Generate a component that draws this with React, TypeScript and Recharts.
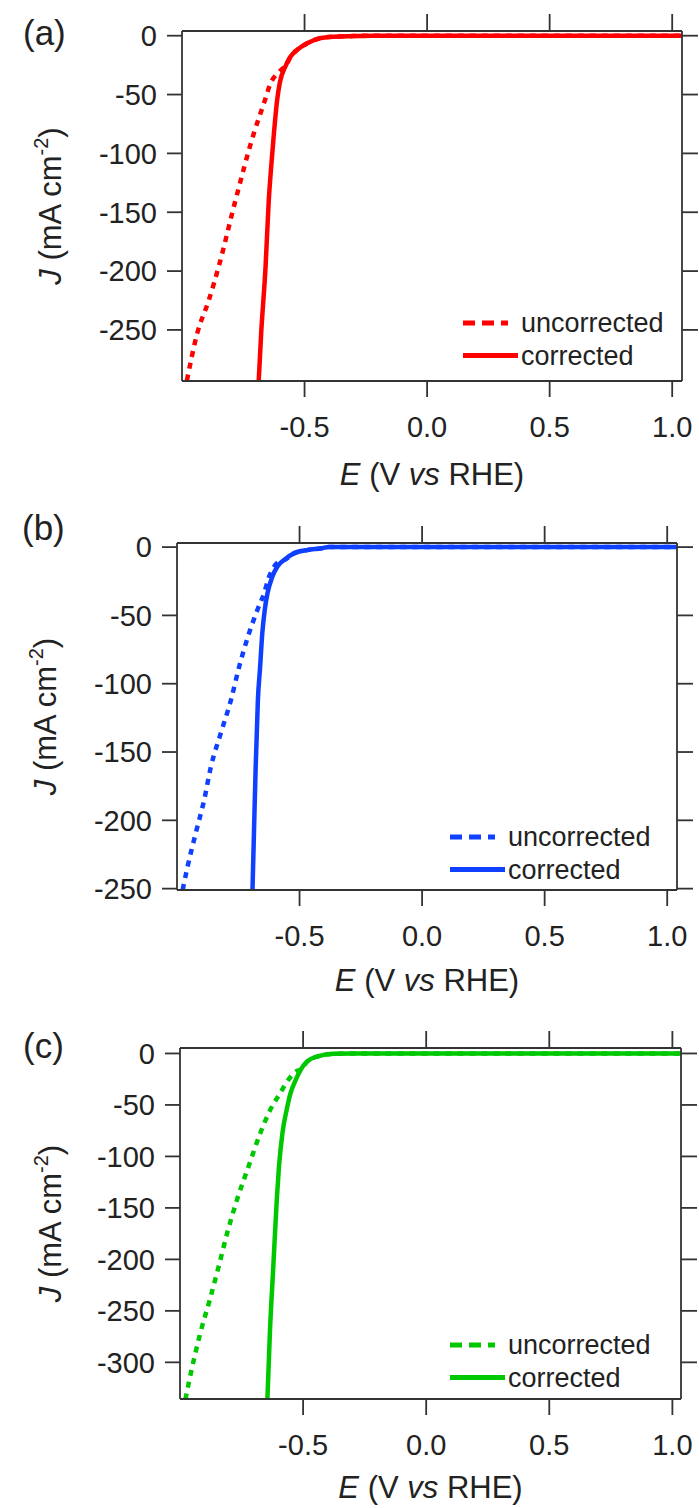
import React from "react";
import { LineChart, Line, XAxis, YAxis, Legend } from "recharts";

const FONT = '"Liberation Sans", Arial, Helvetica, sans-serif';
const INK = "#222";
const AXIS = "#333";

const xTicks = [-0.5, 0, 0.5, 1.0];

// (a) red
const aUncorrE = [-0.98, -0.938, -0.891, -0.85, -0.782, -0.707, -0.662, -0.64, -0.605, -0.571, -0.557, -0.53, -0.489, -0.435, -0.38, -0.3, -0.22, 1.04];
const aUncorrJ = [-293, -253, -225, -196, -140, -83, -55, -41, -31, -23.5, -17.7, -12, -6.4, -2.1, -0.8, -0.3, 0, 0];
const aCorrE = [-0.687, -0.677, -0.659, -0.646, -0.636, -0.625, -0.612, -0.601, -0.578, -0.557, -0.53, -0.489, -0.435, -0.38, -0.3, -0.22, 1.04];
const aCorrJ = [-293, -253, -196, -140, -111, -83, -55, -40, -26, -17.7, -12, -6.4, -2.1, -0.8, -0.3, 0, 0];
const aYTicks = [0, -50, -100, -150, -200, -250];

// (b) blue
const bUncorrE = [-0.977, -0.957, -0.923, -0.889, -0.862, -0.821, -0.78, -0.747, -0.706, -0.672, -0.645, -0.625, -0.604, -0.577, -0.564, -0.523, -0.469, -0.415, -0.38, 1.04];
const bUncorrJ = [-251, -234, -209, -185, -161, -136, -112, -88, -63, -46, -34, -22, -14.4, -10, -9.5, -4.6, -2.2, -1.0, 0, 0];
const bCorrE = [-0.692, -0.686, -0.679, -0.67, -0.661, -0.652, -0.642, -0.631, -0.611, -0.591, -0.564, -0.523, -0.469, -0.415, -0.38, 1.04];
const bCorrJ = [-251, -209, -161, -112, -88, -63, -46, -34, -21.7, -14.4, -9.5, -4.6, -2.2, -1.0, 0, 0];
const bYTicks = [0, -50, -100, -150, -200, -250];

// (c) green
const cUncorrE = [-0.978, -0.951, -0.918, -0.88, -0.843, -0.809, -0.769, -0.722, -0.674, -0.634, -0.593, -0.56, -0.526, -0.51, -0.483, -0.443, -0.377, -0.3, 1.035];
const cUncorrJ = [-336, -305, -272, -240, -207, -175, -142.5, -110, -77.5, -55, -38.6, -25.6, -17, -15.9, -7.8, -3, -0.4, 0, 0];
const cCorrE = [-0.645, -0.635, -0.621, -0.607, -0.598, -0.584, -0.567, -0.551, -0.53, -0.51, -0.483, -0.443, -0.377, -0.3, 1.035];
const cCorrJ = [-336, -272, -207, -142.5, -110, -77.5, -55, -38.6, -25.6, -15.9, -7.8, -3, -0.4, 0, 0];
const cYTicks = [0, -50, -100, -150, -200, -250, -300];

const pts = (E: number[], J: number[]) => E.map((e, i) => ({ E: e, J: J[i] }));

type Frame = { left: number; top: number; right: number; bottom: number };

type PanelProps = {
  color: string;
  uncorr: { E: number; J: number }[];
  corr: { E: number; J: number }[];
  xDomain: [number, number];
  yDomain: [number, number];
  yTicks: number[];
  sectionTop: number;
  sectionHeight: number;
  frame: Frame;
  legendAt: { x: number; y: number };
  yTitleX: number;
  xTitleDy: number;
};

function LegendBox({ color }: { color: string }) {
  return (
    <svg width={230} height={70} style={{ overflow: "visible", display: "block" }}>
      <line x1={0} x2={45} y1={16} y2={16} stroke={color} strokeWidth={5} strokeDasharray="12 7" />
      <text x={58} y={16} dy="0.35em" fontSize={27} fontFamily={FONT} fill={INK}>
        uncorrected
      </text>
      <line x1={0} x2={55} y1={48.5} y2={48.5} stroke={color} strokeWidth={5} />
      <text x={58} y={48.5} dy="0.35em" fontSize={27} fontFamily={FONT} fill={INK}>
        corrected
      </text>
    </svg>
  );
}

// empty tick label: keeps the tick mark, drops the number
const NoLabel = () => <g />;

function Panel(p: PanelProps) {
  const { frame, sectionTop, sectionHeight } = p;
  const tickStyle = { fontSize: 29, fill: INK, fontFamily: FONT };
  const axisLine = { stroke: AXIS, strokeWidth: 1.8 };
  return (
    <div style={{ position: "absolute", left: 0, top: sectionTop }}>
      <LineChart
        width={699}
        height={sectionHeight}
        margin={{ top: frame.top - sectionTop - 1, right: 699 - frame.right - 1, bottom: 0, left: 0 }}
      >
        <XAxis
          dataKey="E"
          type="number"
          domain={p.xDomain}
          allowDataOverflow
          ticks={xTicks}
          tickFormatter={(v: number) => v.toFixed(1)}
          height={sectionTop + sectionHeight - frame.bottom}
          tickSize={16}
          tickMargin={19}
          tick={tickStyle}
          axisLine={axisLine}
          tickLine={axisLine}
          label={{
            content: ({ viewBox }: any) => (
              <text
                x={viewBox.x + viewBox.width / 2}
                y={viewBox.y + p.xTitleDy}
                textAnchor="middle"
                fontSize={31}
                fontFamily={FONT}
                fill={INK}
              >
                <tspan fontStyle="italic">E</tspan>
                {" (V "}
                <tspan fontStyle="italic">vs</tspan>
                {" RHE)"}
              </text>
            ),
          }}
        />
        <XAxis
          xAxisId="top"
          orientation="top"
          dataKey="E"
          type="number"
          domain={p.xDomain}
          allowDataOverflow
          ticks={xTicks}
          height={1}
          tick={NoLabel}
          tickSize={17}
          axisLine={axisLine}
          tickLine={axisLine}
        />
        <YAxis
          type="number"
          domain={p.yDomain}
          allowDataOverflow
          ticks={p.yTicks}
          width={frame.left}
          tickSize={15}
          tickMargin={10}
          tick={tickStyle}
          axisLine={axisLine}
          tickLine={axisLine}
          label={{
            content: ({ viewBox }: any) => (
              <text
                transform={`translate(${p.yTitleX}, ${viewBox.y + viewBox.height / 2}) rotate(-90)`}
                textAnchor="middle"
                fontSize={31}
                fontFamily={FONT}
                fill={INK}
              >
                <tspan fontStyle="italic">J</tspan>
                {" (mA cm"}
                <tspan dy={-13} fontSize={20}>
                  -2
                </tspan>
                <tspan dy={13}>)</tspan>
              </text>
            ),
          }}
        />
        <YAxis
          yAxisId="right"
          orientation="right"
          type="number"
          domain={p.yDomain}
          allowDataOverflow
          ticks={p.yTicks}
          width={1}
          tick={NoLabel}
          tickSize={16}
          axisLine={axisLine}
          tickLine={axisLine}
        />
        <Legend
          layout="vertical"
          align="center"
          verticalAlign="middle"
          wrapperStyle={{ left: p.legendAt.x, top: p.legendAt.y - 16 - sectionTop, width: 230, height: 70 }}
          content={() => <LegendBox color={p.color} />}
        />
        {/* invisible copy so the top and right frame axes get a domain */}
        <Line
          xAxisId="top"
          yAxisId="right"
          data={p.corr}
          dataKey="J"
          legendType="none"
          stroke="none"
          dot={false}
          activeDot={false}
          isAnimationActive={false}
        />
        <Line
          data={p.uncorr}
          dataKey="J"
          name="uncorrected"
          type="monotone"
          stroke={p.color}
          strokeWidth={4.5}
          strokeDasharray="6 6"
          dot={false}
          activeDot={false}
          isAnimationActive={false}
        />
        <Line
          data={p.corr}
          dataKey="J"
          name="corrected"
          type="monotone"
          stroke={p.color}
          strokeWidth={4.5}
          dot={false}
          activeDot={false}
          isAnimationActive={false}
        />
      </LineChart>
    </div>
  );
}

export default function App() {
  return (
    <div style={{ position: "absolute", left: 0, top: 0, width: 699, height: 1508, background: "#fff" }}>
      <Panel
        color="#ff0000"
        uncorr={pts(aUncorrE, aUncorrJ)}
        corr={pts(aCorrE, aCorrJ)}
        xDomain={[-1.0, 1.04]}
        yDomain={[-293.4, 4]}
        yTicks={aYTicks}
        sectionTop={0}
        sectionHeight={500}
        frame={{ left: 182, top: 31, right: 682, bottom: 381 }}
        legendAt={{ x: 463, y: 323 }}
        yTitleX={61}
        xTitleDy={104}
      />
      <Panel
        color="#1040ff"
        uncorr={pts(bUncorrE, bUncorrJ)}
        corr={pts(bCorrE, bCorrJ)}
        xDomain={[-1.0, 1.04]}
        yDomain={[-251, 3]}
        yTicks={bYTicks}
        sectionTop={500}
        sectionHeight={505}
        frame={{ left: 177, top: 543, right: 677, bottom: 890 }}
        legendAt={{ x: 450, y: 837 }}
        yTitleX={56}
        xTitleDy={101}
      />
      <Panel
        color="#00c800"
        uncorr={pts(cUncorrE, cUncorrJ)}
        corr={pts(cCorrE, cCorrJ)}
        xDomain={[-1.0, 1.035]}
        yDomain={[-335.6, 5.3]}
        yTicks={cYTicks}
        sectionTop={1005}
        sectionHeight={503}
        frame={{ left: 180, top: 1048, right: 681, bottom: 1399 }}
        legendAt={{ x: 450, y: 1345 }}
        yTitleX={61}
        xTitleDy={99}
      />
      <svg
        width={699}
        height={1508}
        style={{ position: "absolute", left: 0, top: 0, pointerEvents: "none" }}
      >
        <text x={23} y={45} fontSize={35} fontFamily={FONT} fill={INK}>(a)</text>
        <text x={22} y={540} fontSize={35} fontFamily={FONT} fill={INK}>(b)</text>
        <text x={23} y={1058} fontSize={35} fontFamily={FONT} fill={INK}>(c)</text>
      </svg>
    </div>
  );
}
